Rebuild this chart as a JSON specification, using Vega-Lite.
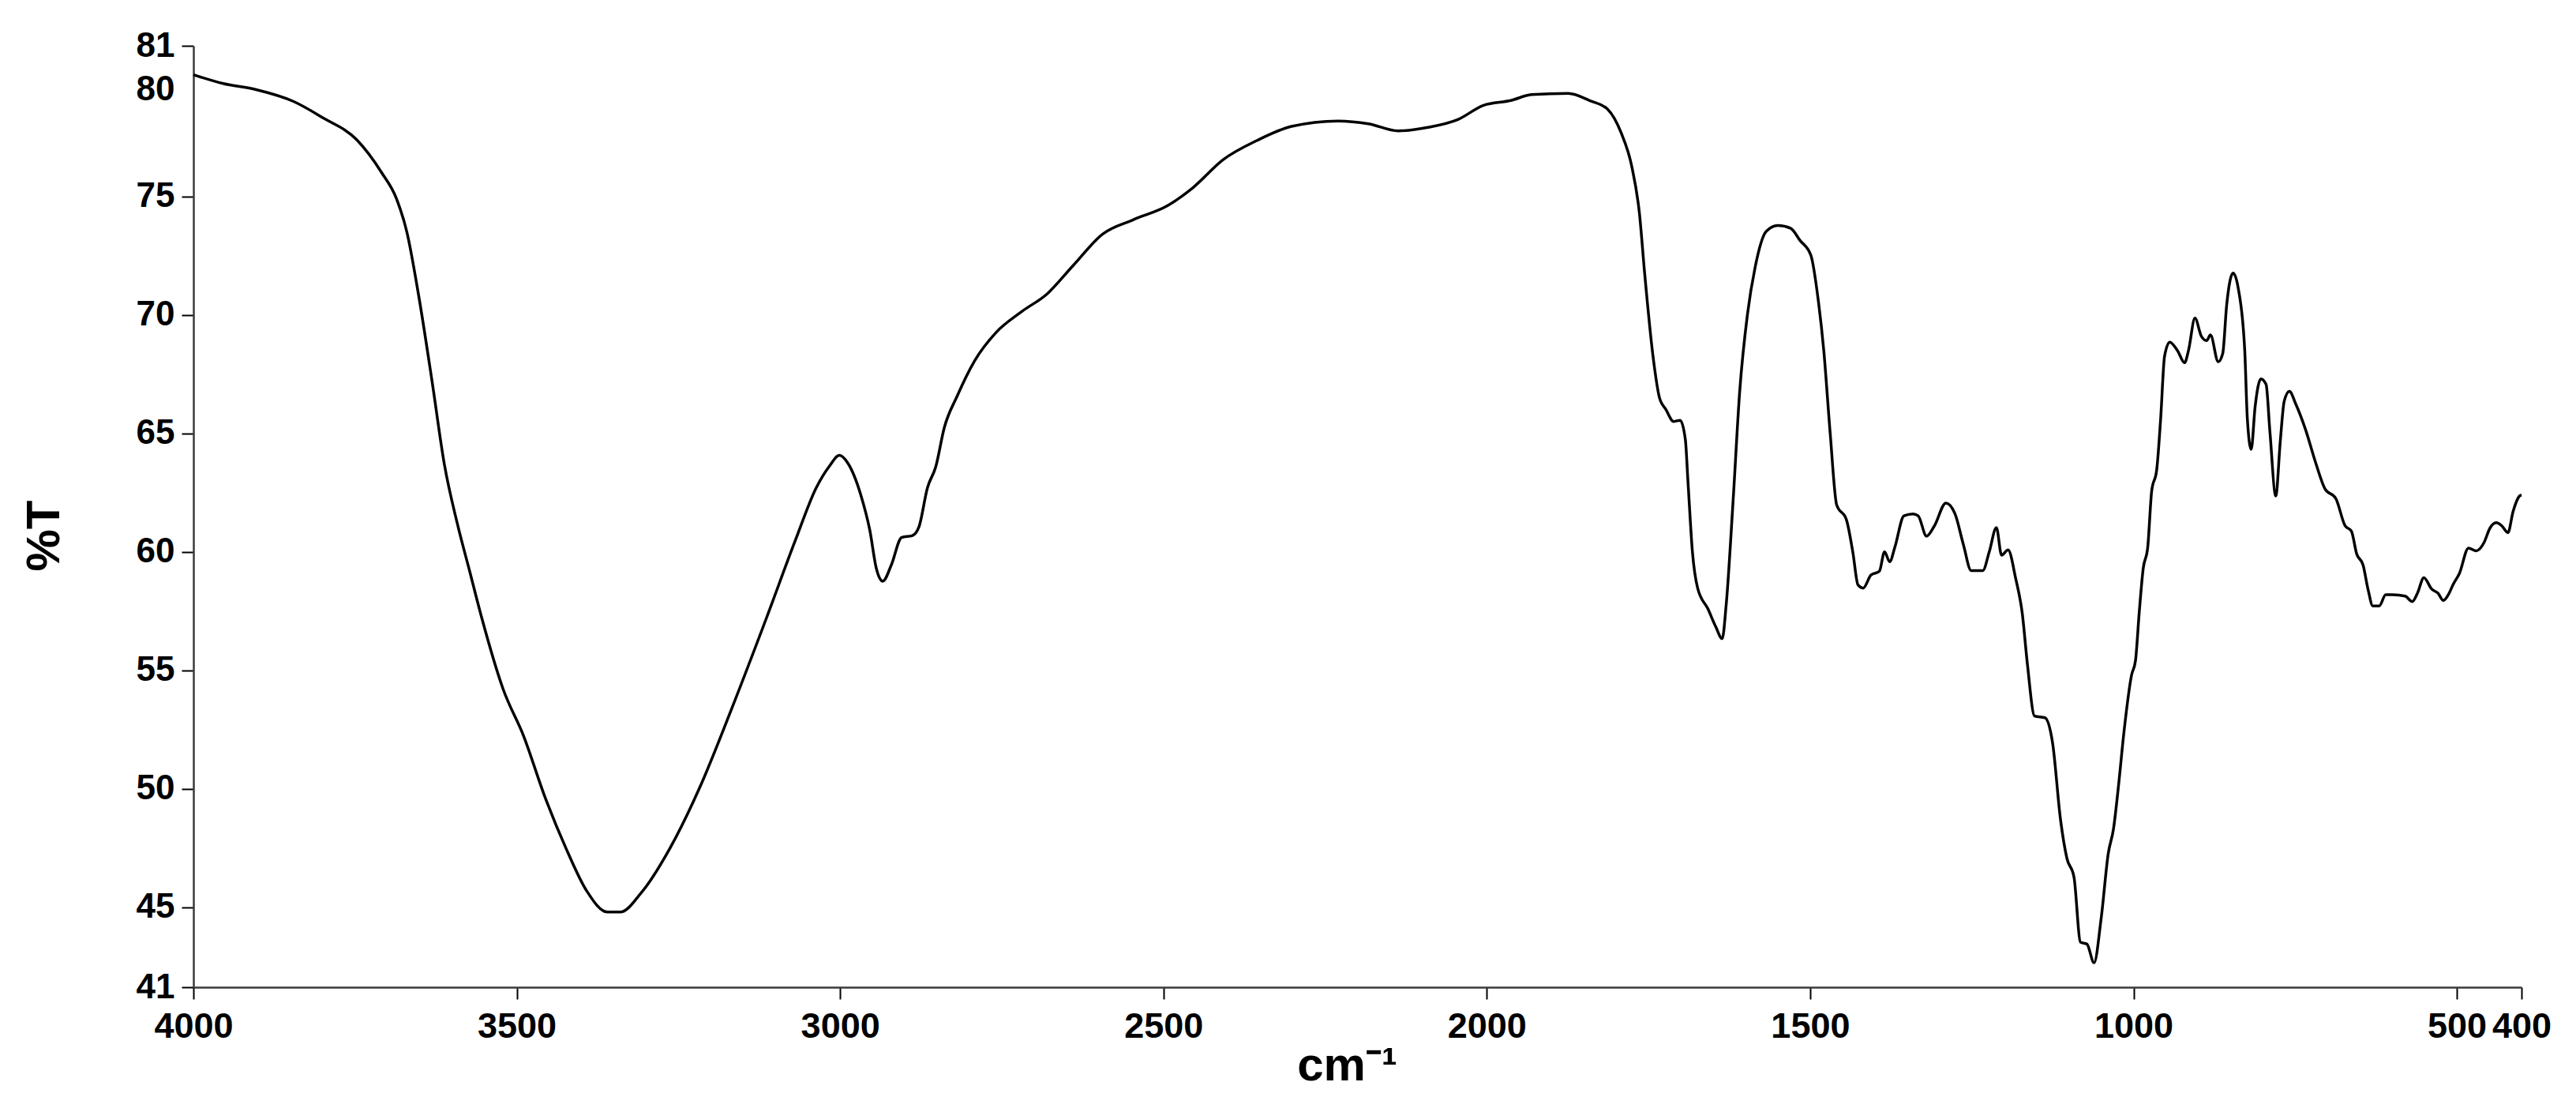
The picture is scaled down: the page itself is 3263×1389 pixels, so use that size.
{
  "$schema": "https://vega.github.io/schema/vega-lite/v6.json",
  "width": 2949,
  "height": 1192,
  "autosize": {"type": "none"},
  "padding": {"left": 245, "top": 58, "right": 69, "bottom": 139},
  "background": "white",
  "config": {
    "view": {"stroke": null},
    "axis": {
      "grid": false,
      "labelFont": "Liberation Sans",
      "labelFontSize": 44,
      "labelFontWeight": "bold",
      "labelColor": "black",
      "titleFont": "Liberation Sans",
      "titleFontSize": 60,
      "titleFontWeight": "bold",
      "titleColor": "black",
      "tickColor": "black",
      "tickWidth": 2,
      "tickSize": 15,
      "domainColor": "#3a3a3a",
      "domainWidth": 2.5,
      "labelFlush": false,
      "labelOverlap": false,
      "labelBound": false
    }
  },
  "data": {
    "values": [
      {"wavenumber": 4000, "T": 80.13}, {"wavenumber": 3954, "T": 79.76}, {"wavenumber": 3903, "T": 79.5},
      {"wavenumber": 3845, "T": 79.0}, {"wavenumber": 3799, "T": 78.3}, {"wavenumber": 3748, "T": 77.4},
      {"wavenumber": 3709, "T": 76.0}, {"wavenumber": 3686, "T": 74.9}, {"wavenumber": 3670, "T": 73.5},
      {"wavenumber": 3651, "T": 70.7}, {"wavenumber": 3631, "T": 67.2}, {"wavenumber": 3612, "T": 63.7},
      {"wavenumber": 3592, "T": 61.2}, {"wavenumber": 3573, "T": 59.2}, {"wavenumber": 3554, "T": 57.2},
      {"wavenumber": 3521, "T": 54.2}, {"wavenumber": 3489, "T": 52.2}, {"wavenumber": 3457, "T": 49.7},
      {"wavenumber": 3424, "T": 47.5}, {"wavenumber": 3392, "T": 45.7}, {"wavenumber": 3360, "T": 44.8},
      {"wavenumber": 3340, "T": 44.8}, {"wavenumber": 3308, "T": 45.6}, {"wavenumber": 3263, "T": 47.5},
      {"wavenumber": 3218, "T": 50.0}, {"wavenumber": 3166, "T": 53.5}, {"wavenumber": 3114, "T": 57.2},
      {"wavenumber": 3069, "T": 60.5}, {"wavenumber": 3037, "T": 62.7}, {"wavenumber": 3017, "T": 63.6},
      {"wavenumber": 3001, "T": 64.07}, {"wavenumber": 2988, "T": 63.74}, {"wavenumber": 2968, "T": 62.4},
      {"wavenumber": 2954, "T": 60.9}, {"wavenumber": 2944, "T": 59.3}, {"wavenumber": 2934, "T": 58.76},
      {"wavenumber": 2921, "T": 59.43}, {"wavenumber": 2905, "T": 60.6}, {"wavenumber": 2888, "T": 60.69},
      {"wavenumber": 2878, "T": 61.06}, {"wavenumber": 2865, "T": 62.7}, {"wavenumber": 2852, "T": 63.6},
      {"wavenumber": 2839, "T": 65.23}, {"wavenumber": 2819, "T": 66.57}, {"wavenumber": 2792, "T": 68.06},
      {"wavenumber": 2759, "T": 69.25}, {"wavenumber": 2719, "T": 70.14}, {"wavenumber": 2680, "T": 70.88},
      {"wavenumber": 2640, "T": 72.07}, {"wavenumber": 2594, "T": 73.41}, {"wavenumber": 2547, "T": 74.01},
      {"wavenumber": 2494, "T": 74.6}, {"wavenumber": 2455, "T": 75.35}, {"wavenumber": 2408, "T": 76.54},
      {"wavenumber": 2355, "T": 77.36}, {"wavenumber": 2302, "T": 77.95}, {"wavenumber": 2230, "T": 78.18},
      {"wavenumber": 2183, "T": 78.06}, {"wavenumber": 2137, "T": 77.76}, {"wavenumber": 2091, "T": 77.91},
      {"wavenumber": 2044, "T": 78.25}, {"wavenumber": 2005, "T": 78.84}, {"wavenumber": 1963, "T": 79.04},
      {"wavenumber": 1931, "T": 79.29}, {"wavenumber": 1874, "T": 79.34}, {"wavenumber": 1841, "T": 79.04},
      {"wavenumber": 1813, "T": 78.67}, {"wavenumber": 1792, "T": 77.66}, {"wavenumber": 1776, "T": 76.28},
      {"wavenumber": 1764, "T": 74.28}, {"wavenumber": 1756, "T": 71.77}, {"wavenumber": 1743, "T": 68.25},
      {"wavenumber": 1733, "T": 66.5}, {"wavenumber": 1723, "T": 66.0}, {"wavenumber": 1711, "T": 65.5},
      {"wavenumber": 1701, "T": 65.55}, {"wavenumber": 1693, "T": 64.74}, {"wavenumber": 1689, "T": 62.99},
      {"wavenumber": 1682, "T": 59.98}, {"wavenumber": 1674, "T": 58.47}, {"wavenumber": 1658, "T": 57.59},
      {"wavenumber": 1646, "T": 56.84}, {"wavenumber": 1636, "T": 56.34}, {"wavenumber": 1630, "T": 57.72},
      {"wavenumber": 1619, "T": 62.23}, {"wavenumber": 1609, "T": 66.75}, {"wavenumber": 1597, "T": 70.01},
      {"wavenumber": 1585, "T": 72.02}, {"wavenumber": 1568, "T": 73.52}, {"wavenumber": 1550, "T": 73.77},
      {"wavenumber": 1530, "T": 73.65}, {"wavenumber": 1516, "T": 73.15}, {"wavenumber": 1499, "T": 72.52},
      {"wavenumber": 1487, "T": 70.51}, {"wavenumber": 1479, "T": 68.51}, {"wavenumber": 1469, "T": 64.99},
      {"wavenumber": 1459, "T": 61.98}, {"wavenumber": 1444, "T": 61.36}, {"wavenumber": 1434, "T": 59.98},
      {"wavenumber": 1426, "T": 58.6}, {"wavenumber": 1418, "T": 58.47}, {"wavenumber": 1406, "T": 59.02},
      {"wavenumber": 1393, "T": 59.18}, {"wavenumber": 1385, "T": 60.0}, {"wavenumber": 1377, "T": 59.58},
      {"wavenumber": 1369, "T": 60.2}, {"wavenumber": 1355, "T": 61.52}, {"wavenumber": 1341, "T": 61.6},
      {"wavenumber": 1333, "T": 61.52}, {"wavenumber": 1320, "T": 60.66}, {"wavenumber": 1308, "T": 61.09},
      {"wavenumber": 1290, "T": 62.06}, {"wavenumber": 1276, "T": 61.6}, {"wavenumber": 1263, "T": 60.3},
      {"wavenumber": 1251, "T": 59.21}, {"wavenumber": 1233, "T": 59.21}, {"wavenumber": 1223, "T": 60.01},
      {"wavenumber": 1212, "T": 61.02}, {"wavenumber": 1204, "T": 59.86}, {"wavenumber": 1194, "T": 60.08},
      {"wavenumber": 1182, "T": 58.85}, {"wavenumber": 1172, "T": 57.4}, {"wavenumber": 1164, "T": 55.24},
      {"wavenumber": 1153, "T": 53.07}, {"wavenumber": 1137, "T": 53.0}, {"wavenumber": 1125, "T": 51.91},
      {"wavenumber": 1113, "T": 48.73}, {"wavenumber": 1103, "T": 47.07}, {"wavenumber": 1092, "T": 46.27},
      {"wavenumber": 1082, "T": 43.53}, {"wavenumber": 1072, "T": 43.45}, {"wavenumber": 1061, "T": 42.66},
      {"wavenumber": 1050, "T": 44.54}, {"wavenumber": 1039, "T": 47.28}, {"wavenumber": 1031, "T": 48.3},
      {"wavenumber": 1023, "T": 50.18}, {"wavenumber": 1015, "T": 52.34}, {"wavenumber": 1003, "T": 54.8},
      {"wavenumber": 997, "T": 55.4}, {"wavenumber": 991, "T": 57.5}, {"wavenumber": 985, "T": 59.3},
      {"wavenumber": 978, "T": 60.2}, {"wavenumber": 972, "T": 62.54}, {"wavenumber": 964, "T": 63.49},
      {"wavenumber": 958, "T": 65.63}, {"wavenumber": 952, "T": 68.25}, {"wavenumber": 944, "T": 68.85},
      {"wavenumber": 932, "T": 68.49}, {"wavenumber": 921, "T": 67.98}, {"wavenumber": 915, "T": 68.49},
      {"wavenumber": 905, "T": 69.86}, {"wavenumber": 895, "T": 69.09}, {"wavenumber": 887, "T": 68.91},
      {"wavenumber": 881, "T": 69.15}, {"wavenumber": 869, "T": 68.02}, {"wavenumber": 862, "T": 68.37},
      {"wavenumber": 856, "T": 70.4}, {"wavenumber": 846, "T": 71.76}, {"wavenumber": 838, "T": 71.11},
      {"wavenumber": 828, "T": 68.49}, {"wavenumber": 824, "T": 65.63}, {"wavenumber": 818, "T": 64.32},
      {"wavenumber": 812, "T": 66.11}, {"wavenumber": 803, "T": 67.3}, {"wavenumber": 795, "T": 67.06},
      {"wavenumber": 789, "T": 65.04}, {"wavenumber": 780, "T": 62.36}, {"wavenumber": 773, "T": 64.68},
      {"wavenumber": 767, "T": 66.35}, {"wavenumber": 759, "T": 66.77}, {"wavenumber": 749, "T": 66.23},
      {"wavenumber": 734, "T": 65.16}, {"wavenumber": 718, "T": 63.73}, {"wavenumber": 704, "T": 62.66},
      {"wavenumber": 687, "T": 62.24}, {"wavenumber": 673, "T": 61.11}, {"wavenumber": 663, "T": 60.87},
      {"wavenumber": 655, "T": 59.92}, {"wavenumber": 645, "T": 59.44}, {"wavenumber": 637, "T": 58.37},
      {"wavenumber": 630, "T": 57.72}, {"wavenumber": 620, "T": 57.72}, {"wavenumber": 610, "T": 58.19},
      {"wavenumber": 600, "T": 58.19}, {"wavenumber": 580, "T": 58.13}, {"wavenumber": 569, "T": 57.9},
      {"wavenumber": 561, "T": 58.25}, {"wavenumber": 551, "T": 58.91}, {"wavenumber": 539, "T": 58.43},
      {"wavenumber": 529, "T": 58.25}, {"wavenumber": 521, "T": 57.95}, {"wavenumber": 512, "T": 58.25},
      {"wavenumber": 506, "T": 58.61}, {"wavenumber": 496, "T": 59.09}, {"wavenumber": 482, "T": 60.16},
      {"wavenumber": 470, "T": 60.04}, {"wavenumber": 458, "T": 60.39}, {"wavenumber": 449, "T": 60.99},
      {"wavenumber": 439, "T": 61.23}, {"wavenumber": 431, "T": 61.11}, {"wavenumber": 421, "T": 60.81},
      {"wavenumber": 413, "T": 61.71}, {"wavenumber": 403, "T": 62.36}, {"wavenumber": 400, "T": 62.4}
    ]
  },
  "mark": {"type": "line", "color": "black", "strokeWidth": 3.5, "interpolate": "monotone"},
  "encoding": {
    "x": {
      "field": "wavenumber",
      "type": "quantitative",
      "scale": {"domain": [4000, 400], "nice": false, "zero": false},
      "axis": {
        "values": [4000, 3500, 3000, 2500, 2000, 1500, 1000, 500, 400],
        "format": "d",
        "title": "cm⁻¹",
        "labelFontSize": 45,
        "labelPadding": 12,
        "titleBaseline": "alphabetic",
        "titleX": 1461,
        "titleY": 117
      }
    },
    "y": {
      "field": "T",
      "type": "quantitative",
      "scale": {"domain": [41.63, 81.35], "nice": false, "zero": false},
      "axis": {
        "values": [41.63, 45, 50, 55, 60, 65, 70, 75, 79.5, 81.35],
        "format": "d",
        "labelExpr": "datum.value < 42 ? '41' : (datum.value == 79.5 ? '80' : (datum.value > 81 ? '81' : datum.label))",
        "tickOpacity": {"condition": {"test": "datum.value == 79.5", "value": 0}, "value": 1},
        "labelPadding": 9,
        "title": "%T",
        "titlePadding": 85,
        "titleY": 620
      }
    }
  }
}
